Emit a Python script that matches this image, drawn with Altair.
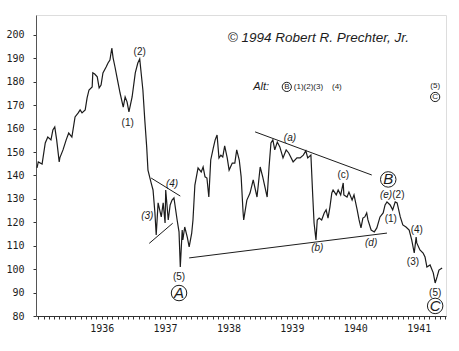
import altair as alt
import pandas as pd

# ---- price path (decimal year as labelled on the chart, index value) ----
dates = [1934.98, 1935.00, 1935.06, 1935.11, 1935.15, 1935.20, 1935.23, 1935.26, 1935.29, 1935.33,
         1935.34, 1935.39, 1935.44, 1935.48, 1935.53, 1935.58, 1935.63, 1935.66, 1935.69, 1935.74,
         1935.77, 1935.80, 1935.85, 1935.86, 1935.89, 1935.93, 1935.96, 1935.99, 1936.02, 1936.07,
         1936.10, 1936.13, 1936.16, 1936.18, 1936.21, 1936.24, 1936.29, 1936.34, 1936.37, 1936.40,
         1936.43, 1936.48, 1936.53, 1936.57, 1936.60, 1936.65, 1936.68, 1936.71, 1936.73, 1936.78,
         1936.81, 1936.84, 1936.86, 1936.89, 1936.94, 1936.97, 1937.00, 1937.01, 1937.05, 1937.08,
         1937.11, 1937.14, 1937.19, 1937.22, 1937.24, 1937.27, 1937.28, 1937.31, 1937.35, 1937.38,
         1937.42, 1937.44, 1937.47, 1937.52, 1937.57, 1937.60, 1937.63, 1937.66, 1937.69, 1937.72,
         1937.76, 1937.79, 1937.82, 1937.85, 1937.88, 1937.91, 1937.94, 1937.98, 1938.01, 1938.06,
         1938.10, 1938.13, 1938.17, 1938.20, 1938.23, 1938.24, 1938.29, 1938.34, 1938.39, 1938.45,
         1938.50, 1938.54, 1938.61, 1938.64, 1938.67, 1938.70, 1938.73, 1938.77, 1938.81, 1938.86,
         1938.91, 1938.95, 1939.02, 1939.08, 1939.13, 1939.18, 1939.22, 1939.25, 1939.30, 1939.33,
         1939.35, 1939.38, 1939.40, 1939.43, 1939.47, 1939.51, 1939.54, 1939.57, 1939.60, 1939.63,
         1939.65, 1939.70, 1939.73, 1939.77, 1939.81, 1939.82, 1939.87, 1939.90, 1939.95, 1939.98,
         1940.03, 1940.06, 1940.09, 1940.12, 1940.15, 1940.18, 1940.20, 1940.25, 1940.30, 1940.34,
         1940.39, 1940.44, 1940.47, 1940.50, 1940.55, 1940.59, 1940.63, 1940.66, 1940.71, 1940.75,
         1940.80, 1940.85, 1940.89, 1940.93, 1940.96, 1940.97, 1941.02, 1941.07, 1941.10, 1941.13,
         1941.18, 1941.23, 1941.26, 1941.29, 1941.32, 1941.37]
prices = [143.2, 145.8, 144.9, 153.9, 156.4, 155.2, 159.4, 160.7, 155.2, 145.8,
          147.5, 150.9, 155.2, 158.1, 156.4, 165.0, 166.7, 168.0, 166.7, 168.0,
          173.1, 176.5, 177.8, 183.8, 183.3, 182.1, 177.4, 178.6, 183.8, 186.3,
          188.0, 189.3, 194.4, 190.2, 186.3, 182.1, 175.2, 169.2, 173.5, 171.4,
          167.1, 173.5, 183.8, 188.0, 189.7, 176.5, 163.7, 152.2, 142.3, 136.8,
          133.8, 124.0, 114.6, 128.3, 122.3, 128.3, 119.7, 133.8, 121.0, 127.4,
          129.5, 130.4, 121.0, 115.9, 100.9, 116.7, 112.5, 118.0, 113.7, 109.5,
          115.4, 121.0, 135.9, 143.2, 141.5, 143.6, 139.4, 138.9, 130.8, 146.6,
          151.7, 155.2, 157.3, 147.5, 148.7, 147.9, 152.6, 147.5, 142.3, 145.3,
          145.3, 150.9, 146.6, 139.4, 124.4, 121.0, 129.5, 132.5, 138.1, 130.8,
          143.6, 139.4, 130.8, 143.6, 153.9, 155.2, 150.9, 154.3, 152.2, 147.5,
          150.9, 149.6, 145.8, 147.5, 147.5, 148.7, 150.5, 147.5, 148.7, 130.8,
          119.7, 112.5, 121.0, 121.8, 121.0, 124.0, 125.3, 121.8, 126.5, 132.5,
          133.8, 131.7, 133.8, 131.7, 136.8, 131.7, 130.8, 132.9, 129.5, 131.7,
          125.3, 121.0, 117.6, 121.8, 122.3, 124.0, 121.0, 116.7, 115.9, 117.6,
          122.3, 124.0, 127.4, 128.7, 127.4, 125.3, 128.7, 128.3, 122.3, 118.9,
          118.0, 116.7, 112.5, 106.9, 113.7, 111.2, 108.2, 106.9, 105.2, 100.9,
          101.8, 98.4, 94.1, 96.7, 99.6, 100.5]

# ---- trend lines ----
line_t1 = [1938.42, 1937.38, 1936.78, 1936.75]
line_v1 = [158.6, 104.8, 138.9, 111.0]
line_t2 = [1940.26, 1940.50, 1937.24, 1937.12]
line_v2 = [140.2, 115.4, 131.2, 119.6]

# ---- wave labels ----
reg_text = ["(2)", "(1)", "(c)", "(2)", "(1)", "(4)", "(3)", "(5)", "(5)"]
reg_t = [1936.60, 1936.41, 1939.81, 1940.68, 1940.56, 1940.97, 1940.91, 1941.26, 1937.22]
reg_v = [192.7, 162.4, 140.2, 131.5, 121.4, 116.7, 103.1, 89.8, 96.7]

ital_text = ["(4)", "(3)", "(a)", "(b)", "(d)", "(e)"]
ital_t = [1937.11, 1936.72, 1938.97, 1939.40, 1940.25, 1940.485]
ital_v = [136.4, 122.7, 156.0, 109.0, 111.2, 131.5]

circ_text = ["A", "B", "C"]
circ_t = [1937.22, 1940.52, 1941.26]
circ_v = [89.8, 138.3, 84.3]

alt_small_text = ["B", "C"]
alt_small_t = [1938.92, 1941.26]
alt_small_v = [177.8, 173.5]

alt_seq_text = ["(1)(2)(3)"]
alt_seq_t = [1939.03]
alt_seq_v = [177.8]

alt_more_text = ["(4)", "(5)"]
alt_more_t = [1939.71, 1941.26]
alt_more_v = [177.8, 178.2]

year_ticks = [round(1935 + k / 12, 4) for k in range(0, 78)]
y_ticks = [80, 90, 100, 110, 120, 130, 140, 150, 160, 170, 180, 190, 200]

df = pd.DataFrame({"t": dates, "v": prices})
lines = pd.DataFrame({"t": line_t1, "v": line_v1, "t2": line_t2, "v2": line_v2})
reg = pd.DataFrame({"t": reg_t, "v": reg_v, "s": reg_text})
ital = pd.DataFrame({"t": ital_t, "v": ital_v, "s": ital_text})
circ = pd.DataFrame({"t": circ_t, "v": circ_v, "s": circ_text})
small = pd.DataFrame({"t": alt_small_t, "v": alt_small_v, "s": alt_small_text})
seq = pd.DataFrame({"t": alt_seq_t, "v": alt_seq_v, "s": alt_seq_text})
more = pd.DataFrame({"t": alt_more_t, "v": alt_more_v, "s": alt_more_text})
copy = pd.DataFrame({"t": [1937.99], "v": [198.7], "s": ["\u00a9 1994 Robert R. Prechter, Jr."]})
altlab = pd.DataFrame({"t": [1938.39], "v": [177.8], "s": ["Alt:"]})

X = alt.Scale(domain=[1934.964, 1941.431], nice=False, zero=False)
Y = alt.Scale(domain=[80, 208.5], nice=False, zero=False)

ink = "#1c1c1c"

xaxis = alt.Axis(values=year_ticks,
                 labelExpr="(abs(datum.value - round(datum.value)) < 0.001 && datum.value >= 1936) ? format(datum.value, 'd') : ''",
                 title=None, grid=False, tickSize=3, labelPadding=4,
                 labelFont="DejaVu Sans Mono", labelFontSize=10, labelColor=ink,
                 domainColor="#333", tickColor="#333", labelOverlap=False, labelFlush=False)
yaxis = alt.Axis(values=y_ticks, format="d", title=None, grid=False, tickSize=3, labelPadding=9,
                 labelFont="DejaVu Sans Mono", labelFontSize=10, labelColor=ink,
                 domainColor="#555", tickColor="#333", labelOverlap=False)

XE = alt.X("t:Q", scale=X, axis=xaxis)
YE = alt.Y("v:Q", scale=Y, axis=yaxis)

price = alt.Chart(df).mark_line(color=ink, strokeWidth=1.2).encode(x=XE, y=YE)

rules = alt.Chart(lines).mark_rule(color=ink, strokeWidth=1).encode(
    x=XE, y=YE, x2="t2:Q", y2="v2:Q",
)

def txt(data, size, style="normal", align="center", font="Liberation Sans"):
    return alt.Chart(data).mark_text(font=font, fontSize=size, fontStyle=style, align=align,
                                     baseline="middle", color=ink).encode(
        x=XE, y=YE, text="s:N")

circles = alt.Chart(circ).mark_point(shape="circle", filled=False, size=240, color=ink,
                                     strokeWidth=1, opacity=1).encode(x=XE, y=YE)
small_circles = alt.Chart(small).mark_point(shape="circle", filled=False, size=85, color=ink,
                                            strokeWidth=1, opacity=1).encode(x=XE, y=YE)

chart = alt.layer(
    price, rules,
    txt(reg, 10), txt(ital, 10, "italic"),
    circles, txt(circ, 15, "italic"),
    small_circles, txt(small, 8),
    txt(seq, 8, "normal", "left"), txt(more, 8),
    txt(altlab, 11, "italic", "left"),
    txt(copy, 13.5, "italic", "left"),
).properties(
    width=410, height=301, autosize="none",
    padding={"left": 36, "top": 15, "right": 13, "bottom": 35},
).configure_view(stroke=ink, strokeWidth=1).configure(background="white")

chart.save("out.html", embed_options={"renderer": "svg", "actions": False})
